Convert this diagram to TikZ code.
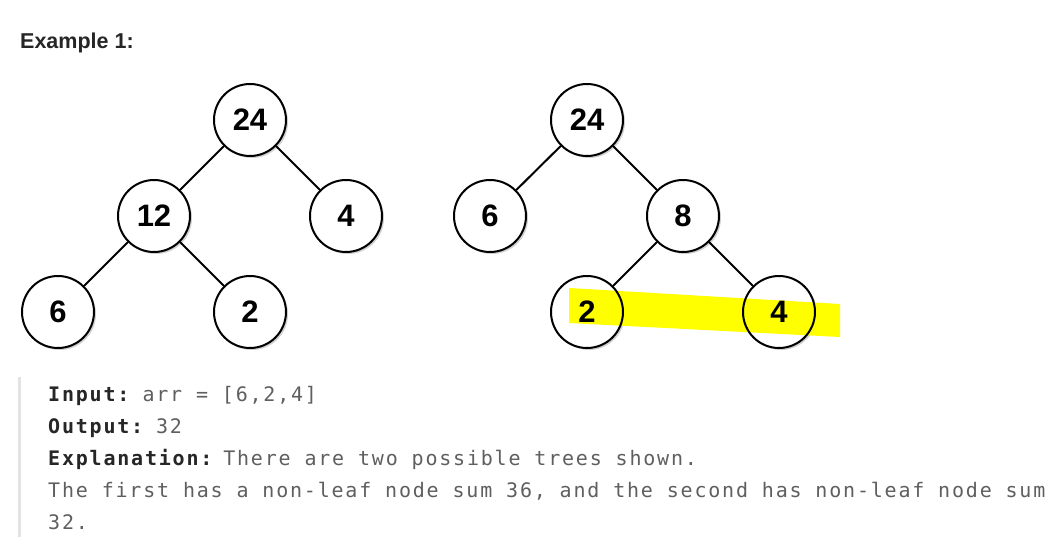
\documentclass[tikz,border=0pt]{standalone}
\usepackage{fontspec}
\setmainfont{Liberation Sans}
\newfontfamily\codefont[LetterSpace=9]{DejaVu Sans Mono}
\definecolor{titlec}{HTML}{262626}
\definecolor{codec}{HTML}{5F5F5F}
\definecolor{barc}{HTML}{E3E3E3}
\definecolor{hl}{HTML}{FFFF00}
\begin{document}
\begin{tikzpicture}[x=1pt,y=-1pt,
  tnode/.style={circle,draw=black,line width=2pt,minimum size=72pt,inner sep=0pt,
    font=\fontsize{31}{31}\selectfont\bfseries},
  shadowc/.style={fill=black!18},
  whitec/.style={fill=white},
  edge/.style={line width=2pt,black},
  code/.style={anchor=base west,inner sep=0pt,font=\codefont\fontsize{20}{20}\selectfont,text=codec},
  codeb/.style={code,text=titlec,font=\codefont\fontsize{20}{20}\selectfont\bfseries},
]
\useasboundingbox (0,0) rectangle (1060,546);
\fill[white] (0,0) rectangle (1060,546);

% title
\node[anchor=base west,inner sep=0pt,text=titlec,font=\fontsize{21.5}{21.5}\selectfont\bfseries] (title) at (20,48) {Example 1:};

% shadows and white fills
\foreach \x/\y in {250/120,154/216,346/216,58/312,250/312,587/120,490/216,683/216,587/312,779/312}{
  \fill[shadowc] (\x+2,\y+2) circle (36);
  \fill[whitec] (\x,\y) circle (36);
}

% highlight
\fill[hl] (569,288) -- (840,304) -- (840,337) -- (569,323) -- cycle;

% tree 1
\node[tnode] (a1) at (250,120) {24};
\node[tnode] (a2) at (154,216) {12};
\node[tnode] (a3) at (346,216) {4};
\node[tnode] (a4) at (58,312) {6};
\node[tnode] (a5) at (250,312) {2};
\draw[edge] (a1) -- (a2);
\draw[edge] (a1) -- (a3);
\draw[edge] (a2) -- (a4);
\draw[edge] (a2) -- (a5);

% tree 2
\node[tnode] (b1) at (587,120) {24};
\node[tnode] (b2) at (490,216) {6};
\node[tnode] (b3) at (683,216) {8};
\node[tnode] (b4) at (587,312) {2};
\node[tnode] (b5) at (779,312) {4};
\draw[edge] (b1) -- (b2);
\draw[edge] (b1) -- (b3);
\draw[edge] (b3) -- (b4);
\draw[edge] (b3) -- (b5);

% text block
\fill[barc] (18,377) rectangle (21,537);
\node[codeb] (k1) at (48,401) {Input:};
\node[code] (l1) at (142.3,401) {arr = [6,2,4]};
\node[codeb] (k2) at (48,433) {Output:};
\node[code] (l2) at (155.8,433) {32};
\node[codeb] (k3) at (48,465) {Explanation:};
\node[code] (l3) at (223.1,465) {There are two possible trees shown.};
\node[code] (l4) at (48,497) {The first has a non-leaf node sum 36, and the second has non-leaf node sum};
\node[code] (l5) at (48,529) {32.};
\end{tikzpicture}
\end{document}
